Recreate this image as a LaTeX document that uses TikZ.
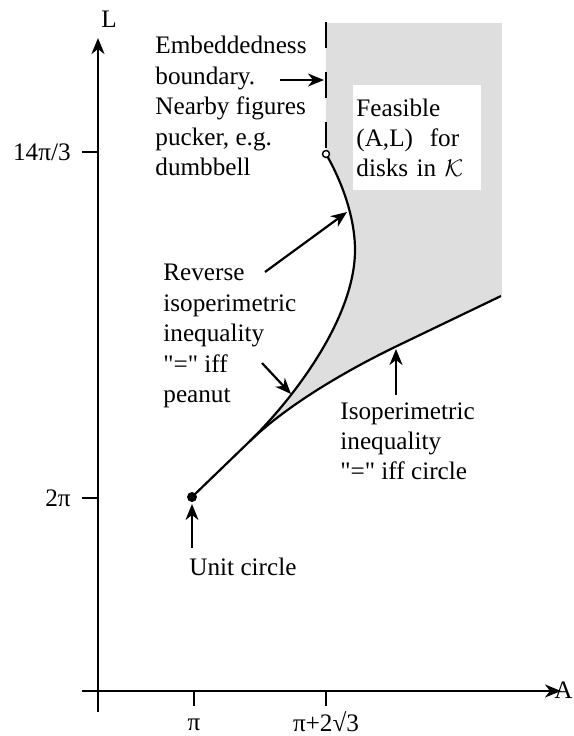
\documentclass[tikz,border=0pt]{standalone}
\usepackage{fontspec}
\setmainfont{Liberation Serif}[Ligatures=TeXOff]
\usetikzlibrary{arrows.meta}

\definecolor{feasgray}{gray}{0.87}

\tikzset{
  axisline/.style={line width=1.1pt, -{Stealth[length=8pt,width=6.5pt,inset=2.5pt]}},
  pointer/.style={line width=1.1pt, -{Stealth[length=8pt,width=6.5pt,inset=2.5pt]}},
  boundary/.style={line width=1.1pt},
  tick/.style={line width=1.1pt},
  txt/.style={align=left, inner sep=0pt, font=\fontsize{12.6}{15.2}\selectfont},
}

\begin{document}
\begin{tikzpicture}[x=0.5pt, y=-0.5pt]
  \useasboundingbox (0,0) rectangle (574,736);

  % curve points
  \coordinate (start) at (192,497);
  \coordinate (split) at (250,441);
  \coordinate (peak) at (355,250);
  \coordinate (top) at (326,154);
  \coordinate (lowmid) at (397,346);
  \coordinate (lowend) at (501,296);

  % feasible region
  \fill[feasgray] (326,23) -- (top)
    .. controls (340,178) and (355,215) .. (peak)
    .. controls (355,320) and (290,402) .. (split)
    .. controls (282,410) and (335,376) .. (lowmid)
    -- (lowend) -- (502,296) -- (502,23) -- cycle;

  % axes
  \coordinate (ybot) at (98,712);
  \coordinate (ytop) at (98,38);
  \coordinate (xleft) at (82,691);
  \coordinate (xright) at (561,691);
  \draw[axisline] (ybot) -- (ytop);
  \draw[axisline] (xleft) -- (xright);
  \node[txt] (Lname) at (109,19) {L};
  \node[txt, anchor=east] (Aname) at (573,690) {A};

  % ticks
  \draw[tick] (194,691) -- (194,706);
  \draw[tick] (326,691) -- (326,706);
  \draw[tick] (82,152) -- (98,152);
  \draw[tick] (82,498) -- (98,498);
  \node[txt] (xpi) at (194,725) {π};
  \node[txt] (xpisq) at (326,722) {π+2√3};
  \node[txt, anchor=east] (yfourteen) at (71,152) {14π/3};
  \node[txt, anchor=east] (ytwo) at (71,498) {2π};

  % curves
  \draw[boundary] (start) -- (split)
    .. controls (290,402) and (355,320) .. (peak)
    .. controls (355,215) and (340,178) .. (top);
  \draw[boundary] (split)
    .. controls (282,410) and (335,376) .. (lowmid) -- (lowend);
  \draw[boundary, dash pattern=on 13pt off 12pt] (326,22) -- (326,150);

  \node[circle, fill, inner sep=0pt, minimum size=5pt] (unit) at (start) {};
  \node[circle, draw, fill=white, line width=0.7pt, inner sep=0pt, minimum size=3.5pt] (dumb) at (top) {};

  % labels
  \node[txt, fill=white, anchor=north west, text width=61pt, inner xsep=1.5pt,
        minimum height=52.5pt] (feas) at (353,85)
    {Feasible\\(A,L)\ \ for\\disks in $\mathcal{K}$};
  \node[txt, anchor=north west] (embed) at (155,36)
    {Embeddedness\\boundary.\\Nearby figures\\pucker, e.g.\\dumbbell};
  \node[txt, anchor=north west] (reverse) at (163,264)
    {Reverse\\isoperimetric\\inequality\\"=" iff\\peanut};
  \node[txt, anchor=north west] (isoper) at (340,402)
    {Isoperimetric\\inequality\\"=" iff circle};
  \node[txt, anchor=west] (ucirc) at (189,567) {Unit circle};

  % pointers
  \coordinate (embtail) at (280,80);
  \coordinate (embtip) at (324,80);
  \coordinate (revtail) at (265,272);
  \coordinate (revtip) at (347,212);
  \coordinate (peatail) at (262,363);
  \coordinate (peatip) at (291,394);
  \coordinate (isotail) at (396,395);
  \coordinate (isotip) at (396,349);
  \coordinate (unittail) at (192,548);
  \coordinate (unittip) at (192,504);
  \draw[pointer] (embtail) -- (embtip);
  \draw[pointer] (revtail) -- (revtip);
  \draw[pointer] (peatail) -- (peatip);
  \draw[pointer] (isotail) -- (isotip);
  \draw[pointer] (unittail) -- (unittip);
\end{tikzpicture}
\end{document}
